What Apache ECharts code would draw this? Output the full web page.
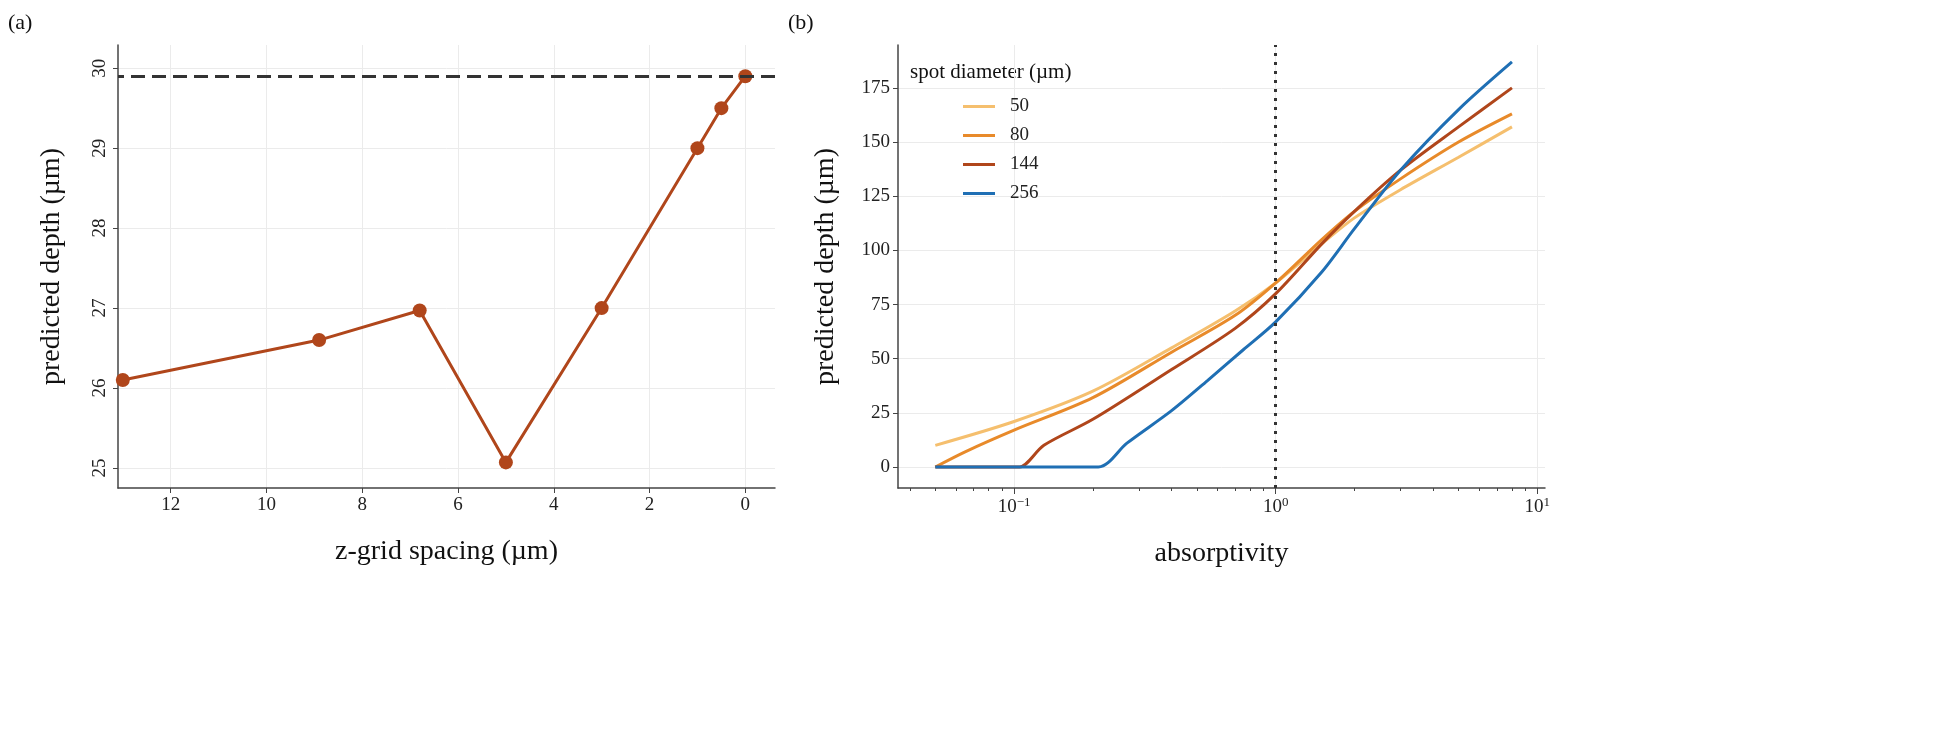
<!DOCTYPE html>
<html><head><meta charset="utf-8">
<script src="https://cdn.jsdelivr.net/npm/echarts@6/dist/echarts.min.js"></script>
<style>html,body{margin:0;background:#fff}#main{width:1959px;height:732px}</style>
</head><body><div id="main"></div>
<script>
var spacing = [13, 8.9, 6.8, 5, 3, 1, 0.5, 0];
var depth = [26.1, 26.6, 26.97, 25.07, 27, 29, 29.5, 29.9];
var refDepth = 29.9;
var spacingTicks = [0, 2, 4, 6, 8, 10, 12];
var depthTicks = [25, 26, 27, 28, 29, 30];

var diameters = ['50', '80', '144', '256'];
var colors = ['#f5bf6e', '#e88a2a', '#b0461b', '#1f6fb4'];
var absorpTicks = [0.1, 1, 10];
var depthTicksB = [0, 25, 50, 75, 100, 125, 150, 175];
var absorp50 = [0.05, 0.1, 0.2, 0.4, 0.7, 1, 1.5, 2, 3, 5, 8];
var depth50 = [10, 21, 35, 55, 72, 85, 103, 115, 128, 143, 157];
var absorp80 = [0.05, 0.065, 0.1, 0.2, 0.4, 0.7, 1, 1.5, 2, 3, 5, 8];
var depth80 = [0, 7, 17, 32, 53, 70, 85, 105, 118, 133, 150, 163];
var absorp144 = [0.05, 0.1, 0.105, 0.13, 0.2, 0.4, 0.7, 1, 1.5, 2, 3, 5, 8];
var depth144 = [0, 0, 0, 10, 22, 45, 64, 80, 103, 118, 137, 157, 175];
var absorp256 = [0.05, 0.21, 0.27, 0.4, 0.55, 0.75, 1, 1.5, 2, 3, 5, 8];
var depth256 = [0, 0, 11, 26, 40, 54, 67, 90, 110, 137, 165, 187];

function pairs(xs, ys) { return xs.map(function (x, i) { return [x, ys[i]]; }); }
var curves = [pairs(absorp50, depth50), pairs(absorp80, depth80), pairs(absorp144, depth144), pairs(absorp256, depth256)];

var font = 'Liberation Serif';
var grid = { color: '#ebebeb' };
var axLine = { show: true, onZero: false, lineStyle: { color: '#444', width: 1.5 } };
var nameStyle = { fontSize: 28, color: '#111', fontFamily: font };
var myChart = echarts.init(document.getElementById('main'));
myChart.setOption({
    textStyle: { fontFamily: font },
    animation: false,
    grid: [
        { left: 118, top: 45, width: 657, height: 443 },
        { left: 898, top: 45, width: 647, height: 443 }
    ],
    xAxis: [{
        gridIndex: 0, type: 'value', inverse: true, min: -0.62, max: 13.1,
        name: 'z-grid spacing (µm)', nameLocation: 'middle', nameGap: 50, nameTextStyle: nameStyle,
        axisLabel: { fontSize: 19, color: '#222', customValues: spacingTicks },
        axisLine: axLine,
        axisTick: { show: true, customValues: spacingTicks, lineStyle: { color: '#444' } },
        splitLine: { lineStyle: grid }
    }, {
        gridIndex: 1, type: 'log', logBase: 10, min: 0.036, max: 10.7,
        name: 'absorptivity', nameLocation: 'middle', nameGap: 52, nameTextStyle: nameStyle,
        axisLabel: {
            fontSize: 19, color: '#222', customValues: absorpTicks,
            formatter: function (v) {
                var e = Math.round(Math.log10(v));
                return '10{s|' + (e < 0 ? '−' + (-e) : e) + '}';
            },
            rich: { s: { fontSize: 13, verticalAlign: 'top', padding: [0, 0, 10, 0], fontFamily: font } }
        },
        axisLine: axLine,
        axisTick: { show: true, customValues: absorpTicks, length: 6, lineStyle: { color: '#444' } },
        minorTick: { show: true, splitNumber: 9, length: 3, lineStyle: { color: '#444' } },
        splitLine: { lineStyle: grid }
    }],
    yAxis: [{
        gridIndex: 0, type: 'value', min: 24.75, max: 30.29,
        name: 'predicted depth (µm)', nameLocation: 'middle', nameGap: 52, nameTextStyle: nameStyle,
        axisLabel: { fontSize: 19, color: '#222', rotate: 90, customValues: depthTicks },
        axisLine: axLine,
        axisTick: { show: true, customValues: depthTicks, lineStyle: { color: '#444' } },
        splitLine: { lineStyle: grid }
    }, {
        gridIndex: 1, type: 'value', min: -9.7, max: 194.8,
        name: 'predicted depth (µm)', nameLocation: 'middle', nameGap: 58, nameTextStyle: nameStyle,
        axisLabel: { fontSize: 19, color: '#222', customValues: depthTicksB },
        axisLine: axLine,
        axisTick: { show: true, customValues: depthTicksB, lineStyle: { color: '#444' } },
        splitLine: { lineStyle: grid }
    }],
    legend: {
        left: 958, top: 92, orient: 'vertical', itemWidth: 32, itemHeight: 3, itemGap: 10,
        icon: 'rect', data: diameters,
        textStyle: { fontSize: 19, color: '#222', fontFamily: font, padding: [0, 0, 0, 10] }
    },
    graphic: [
        { type: 'text', left: 8, top: 12, style: { text: '(a)', fontSize: 22, fontFamily: font, fill: '#111' } },
        { type: 'text', left: 788, top: 12, style: { text: '(b)', fontSize: 22, fontFamily: font, fill: '#111' } },
        { type: 'text', left: 910, top: 62, style: { text: 'spot diameter (µm)', fontSize: 21, fontFamily: font, fill: '#111' } }
    ],
    series: [{
        type: 'line', xAxisIndex: 0, yAxisIndex: 0,
        data: pairs(spacing, depth),
        symbol: 'circle', symbolSize: 14,
        lineStyle: { color: '#b0461b', width: 3 }, itemStyle: { color: '#b0461b' },
        markLine: {
            silent: true, symbol: 'none', label: { show: false },
            lineStyle: { color: '#333', type: [14, 7], width: 3 },
            data: [{ yAxis: refDepth }]
        }
    }].concat(diameters.map(function (d, i) {
        var s = {
            name: d, type: 'line', xAxisIndex: 1, yAxisIndex: 1, data: curves[i],
            symbol: 'none', smooth: 0.3, lineStyle: { color: colors[i], width: 3 }, itemStyle: { color: colors[i] }
        };
        if (i === 0) s.markLine = {
            silent: true, symbol: 'none', label: { show: false },
            lineStyle: { color: '#333', type: [3, 6], width: 3 }, data: [{ xAxis: 1 }]
        };
        return s;
    }))
});
</script></body></html>
